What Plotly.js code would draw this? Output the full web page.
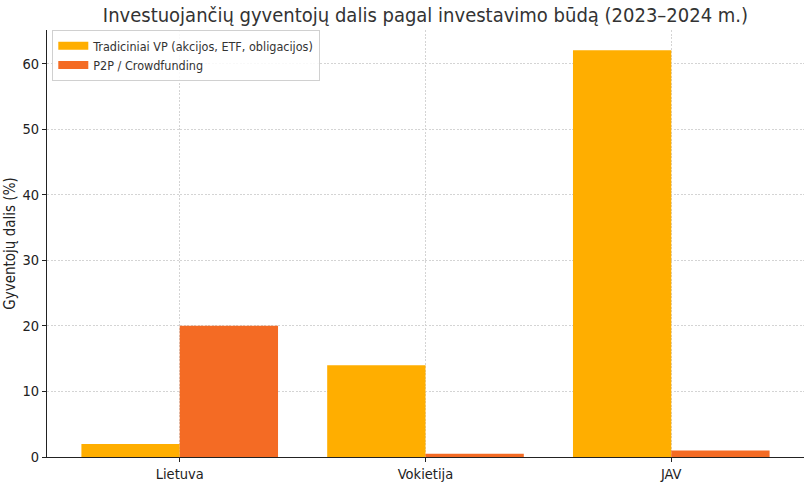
<!DOCTYPE html>
<html><head><meta charset="utf-8">
<script src="https://cdn.plot.ly/plotly-3.0.1.min.js"></script>
<style>html,body{margin:0;padding:0;background:#fff}#c{width:812px;height:483px}</style>
</head><body><div id="c"></div>
<script>
const categories = ["Lietuva", "Vokietija", "JAV"];
const traditional = [2, 14, 62];
const p2p = [20, 0.5, 1];
const seriesNames = ["Tradiciniai VP (akcijos, ETF, obligacijos)", "P2P / Crowdfunding"];
const colors = ["#FFAE00", "#F46B24"];
const yTicks = [0, 10, 20, 30, 40, 50, 60];
const F = "DejaVu Sans Condensed, DejaVu Sans";

const data = [
  {type: "bar", x: categories, y: traditional, name: seriesNames[0], marker: {color: colors[0]}, showlegend: false},
  {type: "bar", x: categories, y: p2p, name: seriesNames[1], marker: {color: colors[1]}, showlegend: false},
  {type: "scatter", mode: "lines", x: [categories[0]], y: [null], name: seriesNames[0], line: {color: colors[0], width: 8}, hoverinfo: "skip"},
  {type: "scatter", mode: "lines", x: [categories[0]], y: [null], name: seriesNames[1], line: {color: colors[1], width: 8}, hoverinfo: "skip"}
];
const layout = {
  width: 812, height: 483,
  margin: {l: 47, r: 8, t: 30, b: 26},
  paper_bgcolor: "#fff", plot_bgcolor: "#fff",
  font: {family: F, color: "#262626"},
  title: {text: "Investuojančių gyventojų dalis pagal investavimo būdą (2023–2024 m.)", font: {family: F, size: 20, color: "#333"}, x: 0.524, xanchor: "center", y: 0.968, yanchor: "middle"},
  barmode: "group", bargap: 0.2, bargroupgap: 0,
  xaxis: {type: "category", range: [-0.54, 2.54], showgrid: true, gridcolor: "#d4d4d4", griddash: "2px,1.5px", gridwidth: 0.8,
    showline: true, linecolor: "#222", linewidth: 1, ticks: "outside", ticklen: 4, tickcolor: "#222", tickfont: {family: F, size: 14.5, color: "#222"}, zeroline: false},
  yaxis: {range: [0, 65.1], tickvals: yTicks, showgrid: true, gridcolor: "#d4d4d4", griddash: "2px,1.5px", gridwidth: 0.8,
    showline: true, linecolor: "#222", linewidth: 1, ticks: "outside", ticklen: 4, tickcolor: "#222", tickfont: {family: F, size: 14.5, color: "#222"}, zeroline: false,
    title: {text: "Gyventojų dalis (%)", font: {family: F, size: 15, color: "#222"}, standoff: 3}},
  legend: {x: 0.007, y: 1.0, xanchor: "left", yanchor: "top", bgcolor: "rgba(255,255,255,0.85)", bordercolor: "#d0d0d0", borderwidth: 1, font: {family: F, size: 12.5, color: "#333"}, tracegroupgap: 0, itemwidth: 30}
};
Plotly.newPlot("c", data, layout, {displayModeBar: false});
</script></body></html>
